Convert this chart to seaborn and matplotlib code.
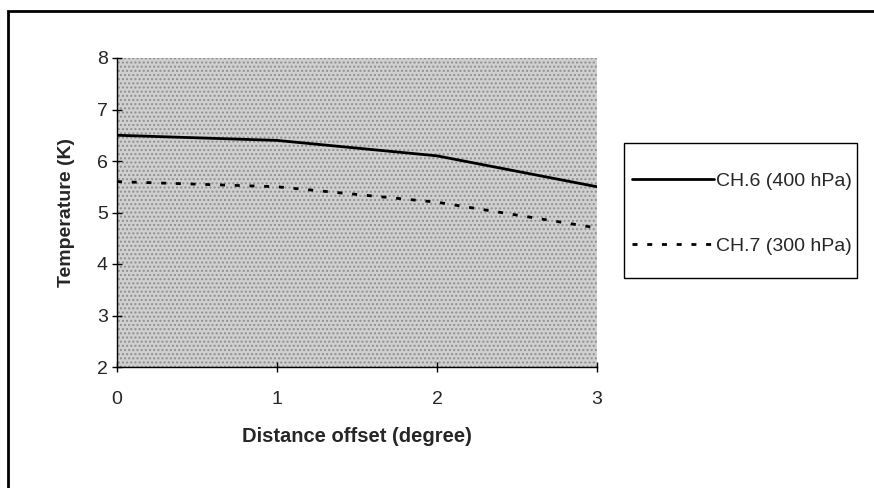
import matplotlib
matplotlib.use("Agg")
import matplotlib.pyplot as plt
import seaborn as sns
import pandas as pd
from matplotlib.patches import Rectangle

# Data
distance = [0, 1, 2, 3]
ch6 = [6.5, 6.4, 6.1, 5.5]
ch7 = [5.6, 5.5, 5.2, 4.7]
series_names = ["CH.6 (400 hPa)", "CH.7 (300 hPa)"]
x_ticks = [0, 1, 2, 3]
y_ticks = [2, 3, 4, 5, 6, 7, 8]

df = pd.DataFrame({
    "Distance": distance * 2,
    "Temperature": ch6 + ch7,
    "Series": [series_names[0]] * len(distance) + [series_names[1]] * len(distance),
})

sns.set_style("white")
plt.rcParams["font.family"] = ["Liberation Sans", "DejaVu Sans"]

fig = plt.figure(figsize=(8.74, 4.88), dpi=100)
ax = fig.add_axes([117/874, 1-367/488, (597-117)/874, (367-58)/488])

ax.set_facecolor("#d0d0d0")
bg = Rectangle((0, 0), 1, 1, transform=ax.transAxes, facecolor="none",
               edgecolor="#8f8f8f", hatch="....", linewidth=0, zorder=0)
ax.add_patch(bg)

sns.lineplot(data=df, x="Distance", y="Temperature", hue="Series", style="Series",
             palette=["black", "black"],
             dashes={series_names[0]: "", series_names[1]: (1.8, 3.5)},
             linewidth=2.0, ax=ax, legend=True)

ax.set_xlim(0, 3)
ax.set_ylim(2, 8)
ax.set_xticks(x_ticks)
ax.set_yticks(y_ticks)
ax.tick_params(axis="y", direction="inout", length=7, width=1, color="black",
               labelsize=14, pad=3, left=True)
ax.tick_params(axis="x", direction="inout", length=7, width=1, color="black",
               labelsize=14, pad=13.5, bottom=True)
for s in ["top", "right"]:
    ax.spines[s].set_visible(False)
for s in ["left", "bottom"]:
    ax.spines[s].set_color("black")
    ax.spines[s].set_linewidth(1.0)

ax.set_xlabel("Distance offset (degree)", fontsize=14.5, fontweight="bold", labelpad=14)
ax.set_ylabel("Temperature (K)", fontsize=14, fontweight="bold", labelpad=16)

handles, labels = ax.get_legend_handles_labels()
leg = ax.legend(handles, labels, loc="upper left",
                bbox_to_anchor=(632/874, 1-172/488), bbox_transform=fig.transFigure,
                frameon=False, fontsize=14,
                handlelength=4.2, handletextpad=0.1, labelspacing=2.45,
                borderpad=0, borderaxespad=0)

# legend box
fig.patches.append(Rectangle((624/874, 1-278/488), (857-624)/874, (278-143)/488,
                             transform=fig.transFigure, fill=False,
                             edgecolor="black", linewidth=1.0))

# outer chart border
fig.patches.append(Rectangle((8/874, -0.1), 1.2, 1-11/488+0.1, transform=fig.transFigure,
                             fill=False, edgecolor="black", linewidth=2.0))

fig.savefig("out.png", dpi=100)
